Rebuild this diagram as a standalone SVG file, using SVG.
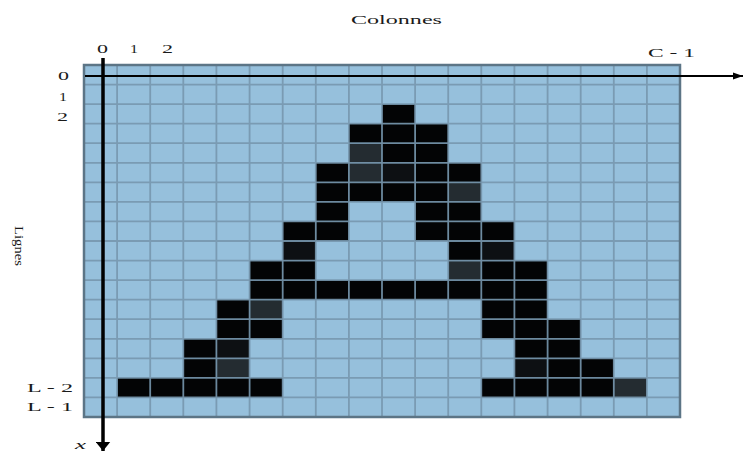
<svg xmlns="http://www.w3.org/2000/svg" width="744" height="453" viewBox="0 0 744 453">
<style>
.lbl{font-family:"Liberation Serif","Times New Roman",serif;font-size:13px;fill:#1a1a1a}
.b{fill:#030405}
.v{fill:#0d1013}
.d{fill:#242c31}
</style>
<defs>
<marker id="ah" viewBox="0 0 10 10" refX="10" refY="5" markerWidth="10" markerHeight="10" markerUnits="userSpaceOnUse" orient="auto">
<path d="M0,1.5 L10,5 L0,8.5 Z" fill="#000"/>
</marker>
<marker id="av" viewBox="0 0 16 10" refX="8" refY="10" markerWidth="15" markerHeight="9" markerUnits="userSpaceOnUse" orient="0">
<path d="M0,0 L16,0 L8,10 Z" fill="#000"/>
</marker>
</defs>
<rect width="744" height="453" fill="#fff"/>
<g id="grid">
<rect x="84" y="65" width="596" height="352" fill="#96c0dc"/>
</g>
<g id="cells">
<rect class="b" x="382" y="104.1" width="33.1" height="19.6"/>
<rect class="b" x="348.9" y="123.7" width="33.1" height="19.6"/>
<rect class="b" x="382" y="123.7" width="33.1" height="19.6"/>
<rect class="b" x="415.1" y="123.7" width="33.1" height="19.6"/>
<rect class="d" x="348.9" y="143.2" width="33.1" height="19.6"/>
<rect class="b" x="382" y="143.2" width="33.1" height="19.6"/>
<rect class="b" x="415.1" y="143.2" width="33.1" height="19.6"/>
<rect class="b" x="315.8" y="162.8" width="33.1" height="19.6"/>
<rect class="d" x="348.9" y="162.8" width="33.1" height="19.6"/>
<rect class="v" x="382" y="162.8" width="33.1" height="19.6"/>
<rect class="b" x="415.1" y="162.8" width="33.1" height="19.6"/>
<rect class="b" x="448.2" y="162.8" width="33.1" height="19.6"/>
<rect class="b" x="315.8" y="182.3" width="33.1" height="19.6"/>
<rect class="b" x="348.9" y="182.3" width="33.1" height="19.6"/>
<rect class="b" x="382" y="182.3" width="33.1" height="19.6"/>
<rect class="b" x="415.1" y="182.3" width="33.1" height="19.6"/>
<rect class="d" x="448.2" y="182.3" width="33.1" height="19.6"/>
<rect class="b" x="315.8" y="201.9" width="33.1" height="19.6"/>
<rect class="b" x="415.1" y="201.9" width="33.1" height="19.6"/>
<rect class="b" x="448.2" y="201.9" width="33.1" height="19.6"/>
<rect class="b" x="282.7" y="221.4" width="33.1" height="19.6"/>
<rect class="b" x="315.8" y="221.4" width="33.1" height="19.6"/>
<rect class="b" x="415.1" y="221.4" width="33.1" height="19.6"/>
<rect class="b" x="448.2" y="221.4" width="33.1" height="19.6"/>
<rect class="b" x="481.3" y="221.4" width="33.1" height="19.6"/>
<rect class="v" x="282.7" y="241" width="33.1" height="19.6"/>
<rect class="b" x="448.2" y="241" width="33.1" height="19.6"/>
<rect class="v" x="481.3" y="241" width="33.1" height="19.6"/>
<rect class="b" x="249.6" y="260.6" width="33.1" height="19.6"/>
<rect class="b" x="282.7" y="260.6" width="33.1" height="19.6"/>
<rect class="d" x="448.2" y="260.6" width="33.1" height="19.6"/>
<rect class="b" x="481.3" y="260.6" width="33.1" height="19.6"/>
<rect class="b" x="514.4" y="260.6" width="33.1" height="19.6"/>
<rect class="b" x="249.6" y="280.1" width="297.9" height="19.6"/>
<rect class="b" x="216.4" y="299.7" width="33.1" height="19.6"/>
<rect class="d" x="249.6" y="299.7" width="33.1" height="19.6"/>
<rect class="b" x="481.3" y="299.7" width="66.2" height="19.6"/>
<rect class="b" x="216.4" y="319.2" width="66.2" height="19.6"/>
<rect class="b" x="481.3" y="319.2" width="99.4" height="19.6"/>
<rect class="b" x="183.3" y="338.8" width="33.1" height="19.6"/>
<rect class="v" x="216.4" y="338.8" width="33.1" height="19.6"/>
<rect class="b" x="514.4" y="338.8" width="66.2" height="19.6"/>
<rect class="b" x="183.3" y="358.3" width="33.1" height="19.6"/>
<rect class="d" x="216.4" y="358.3" width="33.1" height="19.6"/>
<rect class="v" x="514.4" y="358.3" width="33.1" height="19.6"/>
<rect class="b" x="547.6" y="358.3" width="66.2" height="19.6"/>
<rect class="b" x="117.1" y="377.9" width="165.6" height="19.6"/>
<rect class="b" x="481.3" y="377.9" width="132.5" height="19.6"/>
<rect class="d" x="613.8" y="377.9" width="33.1" height="19.6"/>
</g>
<g id="gridlines" fill="none">
<path stroke="#7797ae" stroke-opacity="0.9" stroke-width="1.8" d="M117.1 65V417M150.2 65V417M183.3 65V417M216.4 65V417M249.6 65V417M282.7 65V417M315.8 65V417M348.9 65V417M382 65V417M415.1 65V417M448.2 65V417M481.3 65V417M514.4 65V417M547.6 65V417M580.7 65V417M613.8 65V417M646.9 65V417M84 84.6H680M84 104.1H680M84 123.7H680M84 143.2H680M84 162.8H680M84 182.3H680M84 201.9H680M84 221.4H680M84 241H680M84 260.6H680M84 280.1H680M84 299.7H680M84 319.2H680M84 338.8H680M84 358.3H680M84 377.9H680M84 397.4H680"/>
<rect x="84" y="65" width="596" height="352" stroke="#5c7586" stroke-width="2.5"/>
</g>
<g id="axes" stroke="#000" fill="none">
<line x1="85" y1="76" x2="743" y2="76" stroke-width="2" marker-end="url(#ah)"/>
<line x1="103" y1="58" x2="103" y2="451" stroke-width="3.5" marker-end="url(#av)"/>
</g>
<g id="labels" class="lbl">
<text class="lbl" x="351" y="24" textLength="91" lengthAdjust="spacingAndGlyphs">Colonnes</text>
<text class="lbl" x="97" y="53" textLength="11" lengthAdjust="spacingAndGlyphs">0</text>
<text class="lbl" x="130" y="53" textLength="8" lengthAdjust="spacingAndGlyphs">1</text>
<text class="lbl" x="162" y="53" textLength="11" lengthAdjust="spacingAndGlyphs">2</text>
<text class="lbl" x="648" y="57" textLength="47" lengthAdjust="spacingAndGlyphs">C - 1</text>
<text class="lbl" x="58" y="80" textLength="11" lengthAdjust="spacingAndGlyphs">0</text>
<text class="lbl" x="59" y="101" textLength="8" lengthAdjust="spacingAndGlyphs">1</text>
<text class="lbl" x="57" y="121" textLength="11" lengthAdjust="spacingAndGlyphs">2</text>
<text class="lbl" x="27" y="392" textLength="46" lengthAdjust="spacingAndGlyphs">L - 2</text>
<text class="lbl" x="27" y="411" textLength="46" lengthAdjust="spacingAndGlyphs">L - 1</text>
<text class="lbl" x="75" y="449" font-size="12" font-style="italic" textLength="11" lengthAdjust="spacingAndGlyphs">x</text>
<text class="lbl" transform="translate(15,226) rotate(90)" x="0" y="0" font-size="18" textLength="40" lengthAdjust="spacingAndGlyphs">Lignes</text>
</g>
</svg>
